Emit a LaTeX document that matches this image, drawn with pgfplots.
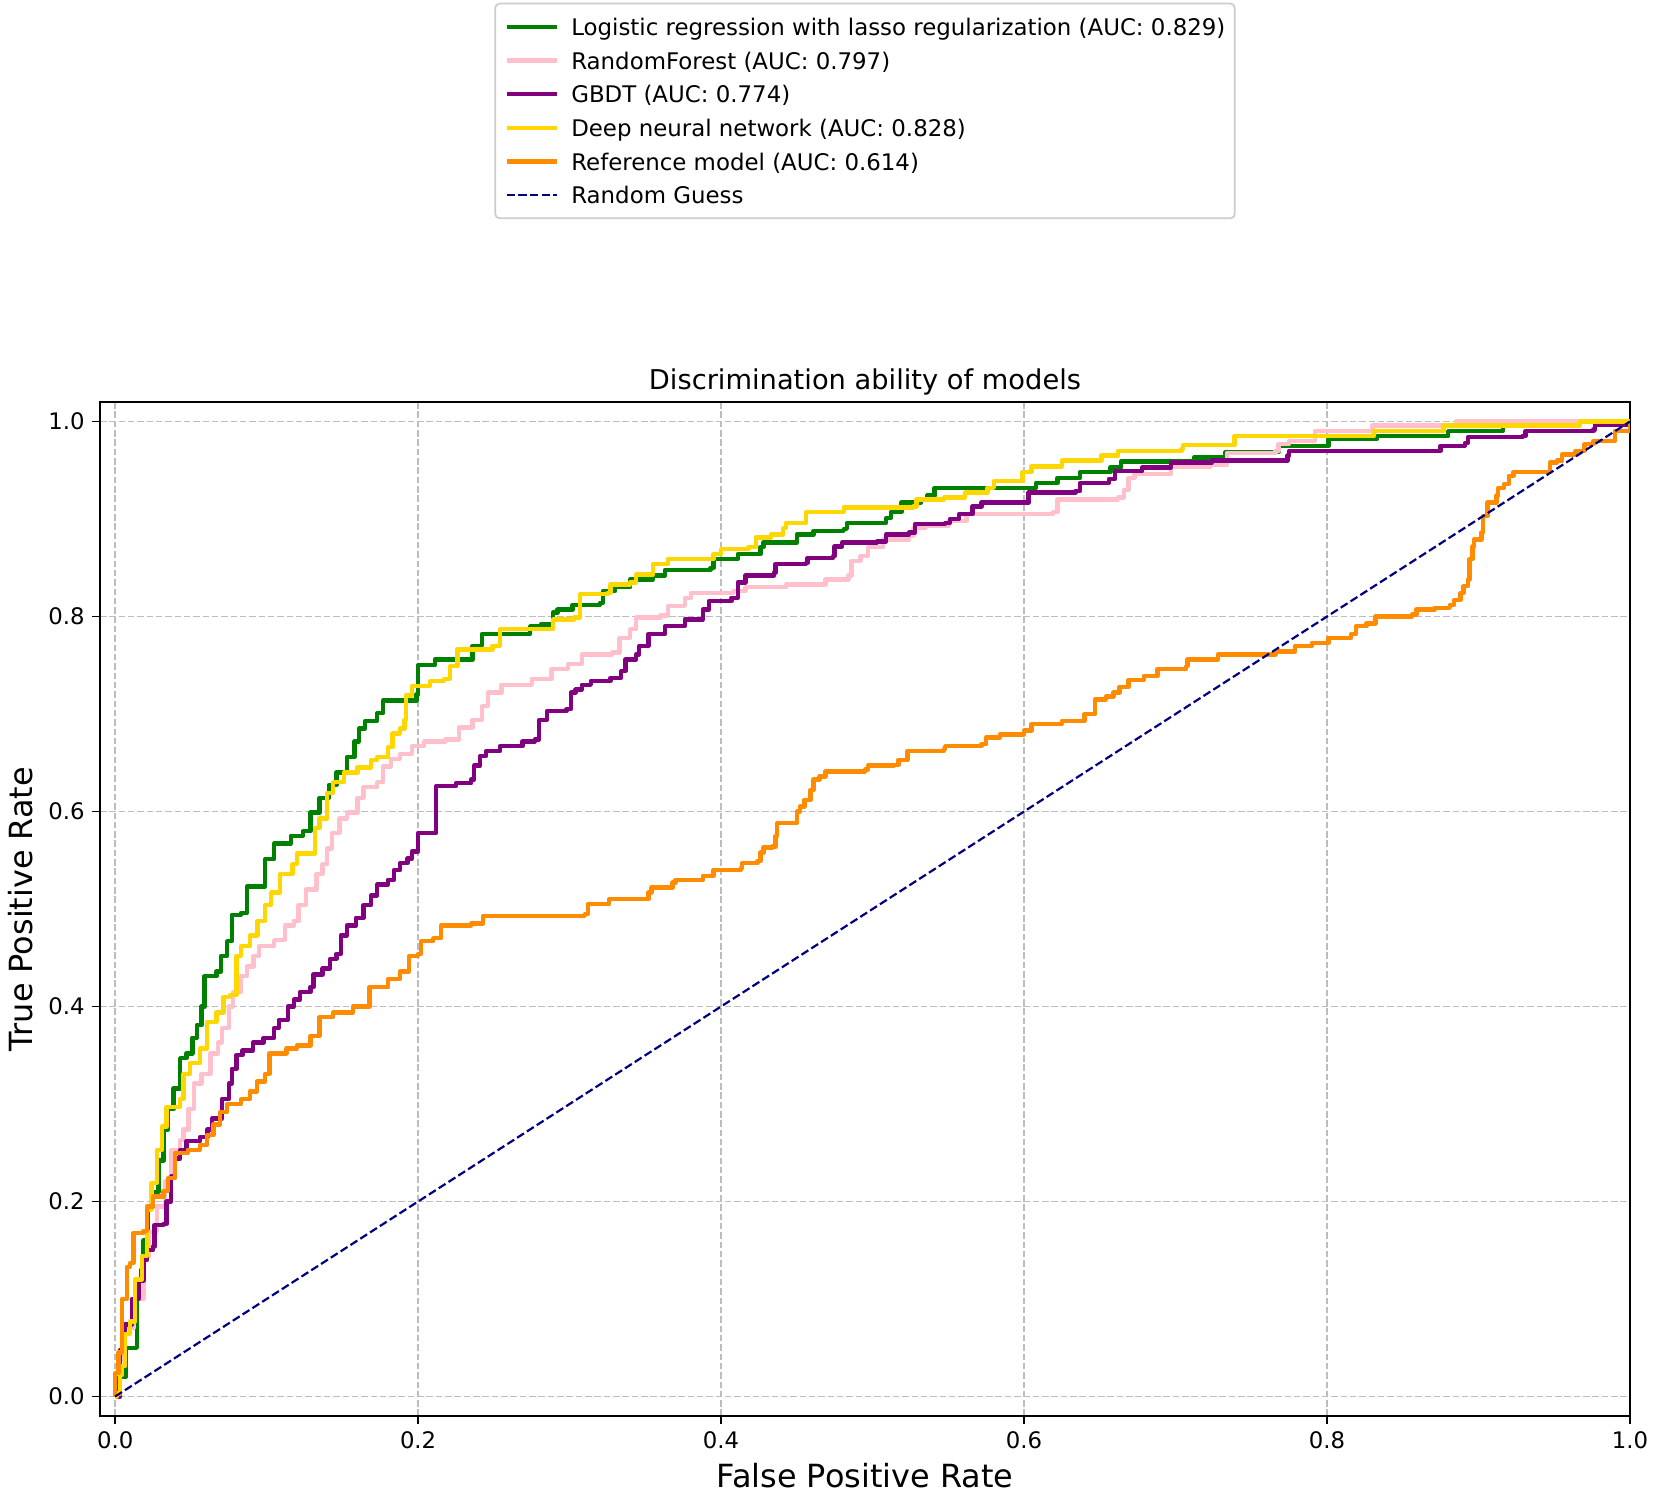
\documentclass[border=0pt]{standalone}
\usepackage{pgfplots}
\pgfplotsset{compat=1.18}
\usepackage{fontspec}
\setmainfont{DejaVu Sans}
\definecolor{cgreen}{HTML}{008000}
\definecolor{cpink}{HTML}{FFC0CB}
\definecolor{cpurple}{HTML}{800080}
\definecolor{cgold}{HTML}{FFD700}
\definecolor{corange}{HTML}{FF8C00}
\definecolor{cnavy}{HTML}{000080}
\definecolor{gridc}{HTML}{BDBDBD}
\definecolor{legc}{HTML}{CCCCCC}
\begin{document}
\begin{tikzpicture}
\useasboundingbox (0pt,0pt) rectangle (751.82pt,680pt);
\begin{axis}[
  at={(45.45pt,36.36pt)}, anchor=south west,
  scale only axis, width=695.45pt, height=460.9pt,
  xmin=-0.01, xmax=1.0, ymin=-0.02, ymax=1.02,
  xtick={0,0.2,0.4,0.6,0.8,1}, ytick={0,0.2,0.4,0.6,0.8,1},
  xtick pos=bottom, ytick pos=left,
  tick align=outside, major tick length=3.5pt,
  major tick style={line width=0.8pt, black},
  axis line style={line width=0.8pt},
  tick label style={font=\fontsize{10.35}{12.4}\selectfont},
  /pgf/number format/fixed, /pgf/number format/fixed zerofill, /pgf/number format/precision=1, /pgf/number format/assume math mode=true,
  grid=major,
  major grid style={line width=0.8pt, gridc, dash pattern=on 2.96pt off 1.28pt},
  xlabel={False Positive Rate},
  xlabel style={font=\fontsize{14.5}{17}\selectfont, at={(axis description cs:0.5,-0.0701)}, anchor=base},
  ylabel={True Positive Rate},
  ylabel style={font=\fontsize{14.5}{17}\selectfont, at={(axis description cs:-0.0439,0.5)}, anchor=base},
  title={Discrimination ability of models},
  every axis title shift=0pt,
  title style={font=\fontsize{12.4}{15}\selectfont, at={(axis description cs:0.5,1.0128)}, anchor=base},
  legend style={at={(axis description cs:0.5,1.1803)}, anchor=south,
    font=\fontsize{10.4}{12.5}\selectfont, draw=legc, line width=0.8pt, rounded corners=2pt,
    inner xsep=4.3pt, inner ysep=5.6pt, row sep=5.4pt,
    nodes={inner sep=0pt, text height=8.9pt, text depth=1.0pt}},
  legend cell align=left,
  legend image code/.code={\draw[#1] (0pt,0pt) -- (23pt,0pt); \path (28.3pt,0pt);},
  every axis plot/.append style={line join=round},
]
\addplot[const plot, cgreen, line width=2pt] coordinates {
(0,0)(0.003,0.02)(0.007,0.05)(0.0143,0.10)(0.017,0.13)(0.0187,0.16)(0.0215,0.195)(0.025,0.21)(0.0286,0.242)(0.032,0.274)(0.035,0.295)(0.0385,0.316)(0.043,0.347)(0.047,0.352)(0.051,0.368)(0.054,0.381)(0.057,0.40)(0.059,0.431)(0.067,0.436)(0.07,0.452)(0.074,0.467)(0.077,0.494)(0.083,0.496)(0.087,0.523)(0.095,0.523)(0.099,0.551)(0.105,0.567)(0.116,0.575)(0.124,0.580)(0.129,0.599)(0.135,0.614)(0.141,0.627)(0.146,0.64)(0.153,0.656)(0.158,0.672)(0.161,0.685)(0.165,0.693)(0.173,0.701)(0.177,0.714)(0.19,0.714)(0.199,0.72)(0.2,0.75)(0.211,0.756)(0.224,0.756)(0.236,0.77)(0.242,0.782)(0.264,0.782)(0.274,0.79)(0.281,0.792)(0.289,0.804)(0.292,0.807)(0.302,0.812)(0.320,0.814)(0.322,0.826)(0.330,0.830)(0.340,0.838)(0.355,0.842)(0.363,0.848)(0.393,0.85)(0.395,0.859)(0.411,0.864)(0.426,0.871)(0.428,0.876)(0.449,0.876)(0.45,0.884)(0.461,0.888)(0.481,0.89)(0.483,0.896)(0.509,0.901)(0.512,0.907)(0.519,0.917)(0.532,0.92)(0.536,0.924)(0.541,0.932)(0.583,0.932)(0.608,0.937)(0.622,0.942)(0.637,0.948)(0.657,0.953)(0.664,0.959)(0.693,0.959)(0.712,0.963)(0.722,0.963)(0.733,0.969)(0.766,0.969)(0.768,0.975)(0.801,0.975)(0.801,0.982)(0.833,0.985)(0.880,0.990)(0.915,0.990)(0.916,0.996)(0.95,1.0)(1,1)
};
\addlegendentry{Logistic regression with lasso regularization (AUC: 0.829)}
\addplot[const plot, cpink, line width=2pt] coordinates {
(0,0)(0.0033,0.038)(0.0055,0.07)(0.012,0.10)(0.0187,0.143)(0.022,0.169)(0.0275,0.195)(0.033,0.221)(0.037,0.253)(0.043,0.263)(0.045,0.274)(0.0485,0.295)(0.052,0.321)(0.057,0.331)(0.063,0.352)(0.068,0.363)(0.0705,0.378)(0.075,0.40)(0.078,0.415)(0.083,0.431)(0.087,0.441)(0.0914,0.452)(0.095,0.462)(0.105,0.468)(0.112,0.483)(0.118,0.488)(0.121,0.504)(0.126,0.52)(0.133,0.536)(0.137,0.546)(0.14,0.562)(0.143,0.578)(0.148,0.593)(0.153,0.599)(0.160,0.614)(0.164,0.625)(0.173,0.63)(0.177,0.646)(0.182,0.654)(0.188,0.659)(0.196,0.667)(0.204,0.672)(0.218,0.674)(0.227,0.686)(0.236,0.694)(0.242,0.708)(0.246,0.722)(0.255,0.730)(0.275,0.736)(0.288,0.746)(0.299,0.751)(0.308,0.761)(0.328,0.763)(0.333,0.778)(0.340,0.787)(0.344,0.799)(0.360,0.801)(0.365,0.811)(0.376,0.819)(0.380,0.824)(0.408,0.826)(0.416,0.830)(0.443,0.833)(0.469,0.838)(0.484,0.842)(0.486,0.857)(0.492,0.862)(0.497,0.871)(0.507,0.879)(0.524,0.883)(0.527,0.891)(0.535,0.893)(0.550,0.898)(0.562,0.905)(0.619,0.907)(0.622,0.92)(0.662,0.922)(0.666,0.930)(0.669,0.942)(0.673,0.946)(0.697,0.954)(0.723,0.956)(0.734,0.968)(0.766,0.970)(0.768,0.977)(0.775,0.980)(0.792,0.990)(0.830,0.996)(0.885,1.0)(1,1)
};
\addlegendentry{RandomForest (AUC: 0.797)}
\addplot[const plot, cpurple, line width=2pt] coordinates {
(0,0)(0.0033,0.048)(0.0066,0.074)(0.011,0.10)(0.0154,0.119)(0.0187,0.14)(0.021,0.15)(0.025,0.154)(0.026,0.176)(0.032,0.177)(0.034,0.2)(0.037,0.226)(0.0396,0.244)(0.043,0.253)(0.047,0.262)(0.056,0.266)(0.061,0.274)(0.064,0.285)(0.0705,0.305)(0.075,0.321)(0.077,0.336)(0.080,0.35)(0.084,0.355)(0.091,0.363)(0.098,0.368)(0.105,0.378)(0.108,0.386)(0.114,0.40)(0.118,0.407)(0.122,0.415)(0.129,0.42)(0.131,0.433)(0.137,0.439)(0.142,0.449)(0.146,0.454)(0.149,0.473)(0.153,0.483)(0.159,0.491)(0.164,0.504)(0.169,0.514)(0.173,0.525)(0.18,0.53)(0.184,0.54)(0.188,0.547)(0.193,0.552)(0.196,0.559)(0.2,0.578)(0.211,0.578)(0.212,0.626)(0.225,0.629)(0.235,0.633)(0.237,0.647)(0.241,0.657)(0.245,0.662)(0.254,0.667)(0.269,0.672)(0.277,0.674)(0.28,0.694)(0.285,0.703)(0.298,0.705)(0.301,0.722)(0.304,0.725)(0.308,0.730)(0.314,0.734)(0.327,0.737)(0.334,0.744)(0.337,0.756)(0.344,0.761)(0.346,0.770)(0.352,0.782)(0.363,0.790)(0.376,0.797)(0.388,0.807)(0.392,0.816)(0.407,0.819)(0.411,0.835)(0.416,0.842)(0.435,0.845)(0.436,0.854)(0.456,0.855)(0.457,0.860)(0.474,0.862)(0.475,0.872)(0.48,0.876)(0.503,0.877)(0.509,0.884)(0.524,0.886)(0.528,0.895)(0.548,0.896)(0.551,0.9)(0.557,0.905)(0.566,0.913)(0.572,0.917)(0.602,0.917)(0.603,0.927)(0.634,0.929)(0.637,0.937)(0.656,0.941)(0.66,0.949)(0.678,0.953)(0.697,0.958)(0.724,0.96)(0.774,0.965)(0.775,0.970)(0.874,0.970)(0.875,0.975)(0.891,0.978)(0.893,0.984)(0.929,0.985)(0.931,0.99)(0.976,0.992)(0.977,0.997)(1,1)
};
\addlegendentry{GBDT (AUC: 0.774)}
\addplot[const plot, cgold, line width=2pt] coordinates {
(0,0)(0.0011,0.003)(0.0033,0.022)(0.0044,0.031)(0.0066,0.064)(0.0099,0.077)(0.013,0.12)(0.0176,0.144)(0.021,0.192)(0.024,0.219)(0.0275,0.253)(0.031,0.277)(0.034,0.297)(0.043,0.305)(0.045,0.331)(0.0496,0.342)(0.056,0.357)(0.0606,0.384)(0.067,0.394)(0.0716,0.41)(0.076,0.412)(0.080,0.452)(0.083,0.462)(0.089,0.473)(0.094,0.488)(0.099,0.504)(0.103,0.517)(0.109,0.536)(0.117,0.546)(0.12,0.557)(0.129,0.557)(0.132,0.583)(0.135,0.593)(0.14,0.619)(0.144,0.63)(0.151,0.64)(0.160,0.645)(0.169,0.653)(0.173,0.656)(0.18,0.666)(0.183,0.680)(0.188,0.685)(0.191,0.694)(0.192,0.719)(0.196,0.729)(0.208,0.734)(0.217,0.736)(0.221,0.749)(0.226,0.766)(0.249,0.77)(0.254,0.787)(0.282,0.787)(0.289,0.797)(0.303,0.799)(0.307,0.823)(0.325,0.824)(0.327,0.833)(0.340,0.835)(0.344,0.843)(0.355,0.854)(0.365,0.859)(0.395,0.864)(0.40,0.869)(0.418,0.871)(0.423,0.881)(0.433,0.884)(0.441,0.891)(0.443,0.896)(0.456,0.907)(0.481,0.912)(0.527,0.913)(0.529,0.92)(0.547,0.922)(0.561,0.927)(0.576,0.932)(0.58,0.939)(0.599,0.948)(0.605,0.954)(0.625,0.96)(0.651,0.965)(0.662,0.970)(0.704,0.972)(0.705,0.976)(0.739,0.985)(0.830,0.985)(0.831,0.99)(0.877,0.996)(0.967,0.996)(0.967,1.0)(1,1)
};
\addlegendentry{Deep neural network (AUC: 0.828)}
\addplot[const plot, corange, line width=2pt] coordinates {
(0,0)(0,0.024)(0.0022,0.045)(0.0044,0.10)(0.0077,0.133)(0.0099,0.137)(0.012,0.168)(0.0187,0.17)(0.021,0.195)(0.025,0.205)(0.032,0.211)(0.035,0.224)(0.0396,0.25)(0.048,0.253)(0.056,0.258)(0.0606,0.268)(0.065,0.279)(0.0694,0.292)(0.074,0.30)(0.083,0.305)(0.089,0.313)(0.0936,0.323)(0.099,0.331)(0.102,0.352)(0.113,0.357)(0.12,0.36)(0.129,0.37)(0.135,0.389)(0.144,0.394)(0.157,0.40)(0.168,0.407)(0.168,0.42)(0.18,0.428)(0.188,0.436)(0.194,0.452)(0.2,0.454)(0.202,0.467)(0.21,0.47)(0.215,0.483)(0.235,0.485)(0.243,0.493)(0.31,0.495)(0.312,0.505)(0.326,0.51)(0.352,0.517)(0.354,0.522)(0.368,0.527)(0.37,0.530)(0.388,0.534)(0.395,0.54)(0.413,0.542)(0.414,0.547)(0.424,0.549)(0.426,0.558)(0.428,0.563)(0.434,0.564)(0.436,0.575)(0.437,0.588)(0.449,0.588)(0.45,0.60)(0.452,0.605)(0.455,0.612)(0.459,0.622)(0.461,0.633)(0.465,0.636)(0.469,0.641)(0.495,0.643)(0.497,0.647)(0.514,0.648)(0.517,0.653)(0.523,0.662)(0.547,0.664)(0.548,0.667)(0.572,0.669)(0.575,0.676)(0.584,0.679)(0.60,0.683)(0.605,0.69)(0.625,0.693)(0.64,0.70)(0.647,0.715)(0.654,0.718)(0.659,0.722)(0.663,0.728)(0.669,0.735)(0.679,0.739)(0.688,0.746)(0.707,0.749)(0.708,0.756)(0.728,0.761)(0.761,0.761)(0.766,0.764)(0.779,0.77)(0.79,0.773)(0.801,0.778)(0.816,0.782)(0.819,0.79)(0.826,0.793)(0.832,0.80)(0.856,0.802)(0.859,0.807)(0.871,0.809)(0.881,0.812)(0.884,0.817)(0.888,0.824)(0.89,0.831)(0.893,0.838)(0.894,0.859)(0.896,0.872)(0.897,0.879)(0.902,0.886)(0.903,0.903)(0.906,0.917)(0.912,0.924)(0.913,0.932)(0.917,0.936)(0.920,0.944)(0.923,0.948)(0.945,0.948)(0.947,0.958)(0.952,0.96)(0.955,0.966)(0.964,0.970)(0.97,0.977)(0.976,0.98)(0.988,0.98)(0.99,0.99)(1,1)
};
\addlegendentry{Reference model (AUC: 0.614)}
\addplot[cnavy, line width=1pt, dash pattern=on 3.7pt off 1.6pt] coordinates {(0,0)(1,1)};
\addlegendentry{Random Guess}
\end{axis}
\end{tikzpicture}
\end{document}
